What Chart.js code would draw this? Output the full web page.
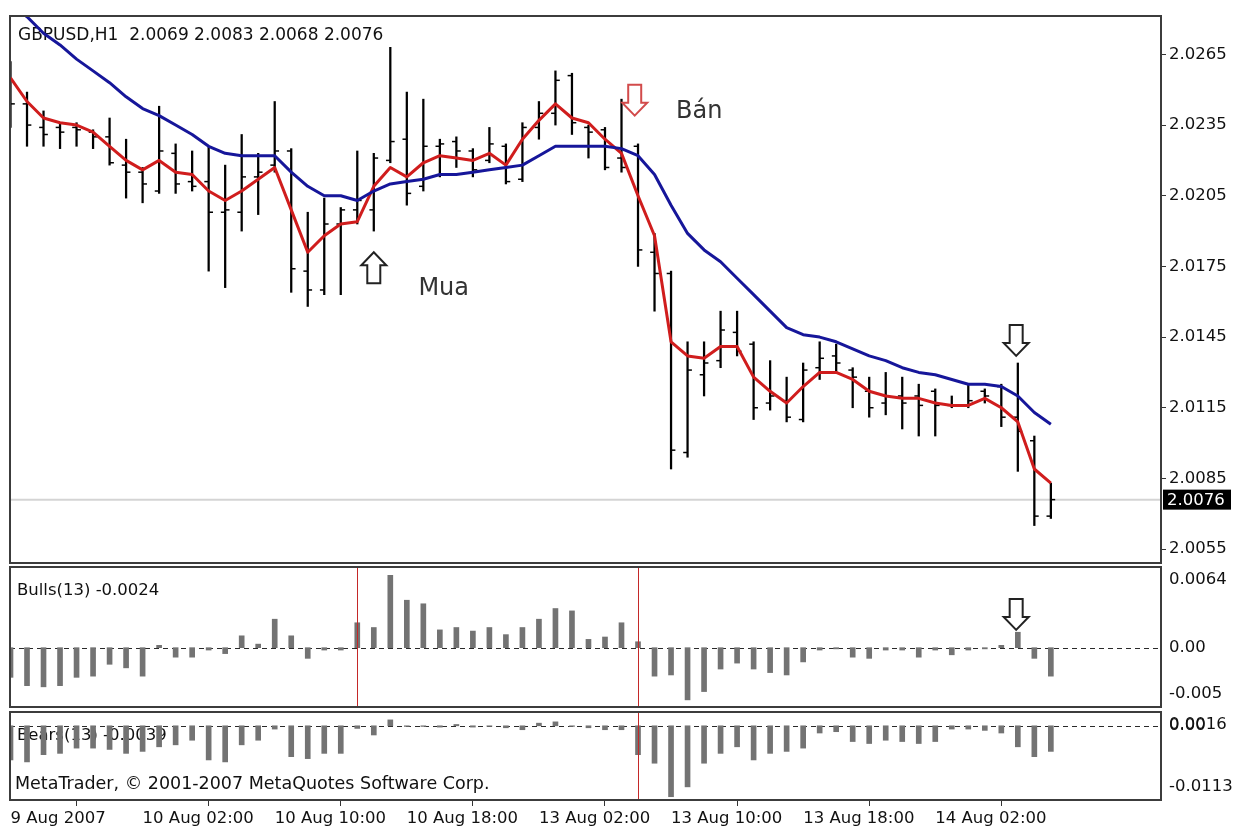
<!DOCTYPE html>
<html><head><meta charset="utf-8">
<script src="https://cdn.jsdelivr.net/npm/chart.js@4.4.1/dist/chart.umd.min.js"></script>
<style>html,body{margin:0;padding:0;background:#fff}canvas{display:block}</style>
</head><body>
<canvas id="c" width="1233" height="830"></canvas>
<script>
// ---------------- data (GBPUSD H1) ----------------
const symbolName = 'GBPUSD,H1';
const openP = [2.0254,2.0244,2.0234,2.0234,2.0234,2.0232,2.0230,2.0218,2.0215,2.0207,
2.0223,2.0211,2.0211,2.0198,2.0198,2.0213,2.0218,2.0224,2.0173,2.0165,
2.0193,2.0199,2.0199,2.0220,2.0229,2.0209,2.0226,2.0228,2.0224,2.0220,
2.0226,2.0212,2.0234,2.0240,2.0256,2.0234,2.0233,2.0221,2.0226,2.0181,
2.0172,2.0096,2.0129,2.0135,2.0147,2.0142,2.0117,2.0118,2.0110,2.0132,
2.0137,2.0131,2.0122,2.0117,2.0120,2.0120,2.0122,2.0116,2.0116,2.0122,
2.0124,2.0111,2.0101,2.0069];
const highP = [2.0262,2.0249,2.0241,2.0236,2.0236,2.0233,2.0238,2.0229,2.0217,2.0243,
2.0227,2.0224,2.0226,2.0218,2.0231,2.0223,2.0245,2.0225,2.0198,2.0204,
2.0200,2.0224,2.0223,2.0268,2.0249,2.0246,2.0229,2.0230,2.0225,2.0234,
2.0227,2.0236,2.0245,2.0258,2.0257,2.0235,2.0234,2.0246,2.0227,2.0189,
2.0173,2.0143,2.0143,2.0156,2.0156,2.0143,2.0135,2.0128,2.0134,2.0143,
2.0142,2.0132,2.0128,2.0130,2.0128,2.0125,2.0123,2.0120,2.0125,2.0123,
2.0125,2.0134,2.0103,2.0083];
const lowP = [2.0234,2.0226,2.0226,2.0225,2.0226,2.0225,2.0218,2.0204,2.0202,2.0206,
2.0206,2.0207,2.0173,2.0166,2.0190,2.0197,2.0215,2.0164,2.0158,2.0163,
2.0163,2.0193,2.0190,2.0219,2.0201,2.0207,2.0213,2.0217,2.0213,2.0219,
2.0210,2.0211,2.0229,2.0235,2.0231,2.0221,2.0216,2.0215,2.0175,2.0156,
2.0089,2.0094,2.0120,2.0132,2.0137,2.0110,2.0114,2.0109,2.0109,2.0127,
2.0130,2.0115,2.0111,2.0112,2.0106,2.0103,2.0103,2.0115,2.0115,2.0117,
2.0107,2.0088,2.0065,2.0068];
const closeP = [2.0244,2.0235,2.0231,2.0232,2.0233,2.0230,2.0219,2.0215,2.0210,2.0224,
2.0210,2.0209,2.0198,2.0199,2.0213,2.0215,2.0224,2.0174,2.0165,2.0193,
2.0199,2.0203,2.0221,2.0228,2.0206,2.0226,2.0227,2.0224,2.0216,2.0227,
2.0211,2.0234,2.0240,2.0254,2.0236,2.0232,2.0217,2.0217,2.0182,2.0172,
2.0097,2.0131,2.0134,2.0148,2.0139,2.0115,2.0120,2.0111,2.0131,2.0136,
2.0134,2.0128,2.0115,2.0120,2.0117,2.0116,2.0116,2.0116,2.0118,2.0120,
2.0111,2.0105,2.0069,2.0076];
const maFast = [2.0255,2.0245,2.0238,2.0236,2.0235,2.0232,2.0226,2.0220,2.0216,2.0220,
2.0215,2.0214,2.0207,2.0203,2.0207,2.0212,2.0217,2.0199,2.0181,2.0188,
2.0193,2.0194,2.0209,2.0217,2.0213,2.0219,2.0222,2.0221,2.0220,2.0223,
2.0218,2.0229,2.0237,2.0244,2.0238,2.0236,2.0229,2.0223,2.0205,2.0188,
2.0143,2.0137,2.0136,2.0141,2.0141,2.0128,2.0122,2.0117,2.0124,2.0130,
2.0130,2.0127,2.0122,2.0120,2.0119,2.0119,2.0117,2.0116,2.0116,2.0119,
2.0115,2.0109,2.0089,2.0083];
const maSlow = [2.0286,2.0281,2.0274,2.0269,2.0263,2.0258,2.0253,2.0247,2.0242,2.0239,
2.0235,2.0231,2.0226,2.0223,2.0222,2.0222,2.0222,2.0215,2.0209,2.0205,
2.0205,2.0203,2.0207,2.0210,2.0211,2.0212,2.0214,2.0214,2.0215,2.0216,
2.0217,2.0218,2.0222,2.0226,2.0226,2.0226,2.0226,2.0225,2.0222,2.0214,
2.0201,2.0189,2.0182,2.0177,2.0170,2.0163,2.0156,2.0149,2.0146,2.0145,
2.0143,2.0140,2.0137,2.0135,2.0132,2.0130,2.0129,2.0127,2.0125,2.0125,
2.0124,2.0120,2.0113,2.0108];
const bullsPower = [-0.0025,-0.0032,-0.0033,-0.0032,-0.0025,-0.0024,-0.0014,-0.0017,-0.0024,0.0002,
-0.0008,-0.0008,-0.0002,-0.0005,0.0010,0.0003,0.0024,0.0010,-0.0009,-0.0002,
-0.0002,0.0021,0.0017,0.0061,0.0040,0.0037,0.0015,0.0017,0.0014,0.0017,
0.0011,0.0017,0.0024,0.0033,0.0031,0.0007,0.0009,0.0021,0.0005,-0.0024,
-0.0023,-0.0044,-0.0037,-0.0018,-0.0013,-0.0018,-0.0021,-0.0023,-0.0012,-0.0002,
-0.0001,-0.0008,-0.0009,-0.0002,-0.0002,-0.0008,-0.0002,-0.0006,-0.0002,-0.0001,
0.0002,0.0013,-0.0009,-0.0024];
const bearsPower = [-0.0052,-0.0055,-0.0044,-0.0042,-0.0034,-0.0034,-0.0036,-0.0042,-0.0039,-0.0032,
-0.0029,-0.0022,-0.0052,-0.0055,-0.0029,-0.0022,-0.0005,-0.0047,-0.0050,-0.0042,
-0.0042,-0.0004,-0.0014,0.0009,-0.0001,-0.0001,-0.0002,0.0002,-0.0002,-0.0001,
-0.0003,-0.0006,0.0004,0.0006,-0.0001,-0.0003,-0.0006,-0.0006,-0.0044,-0.0057,
-0.0108,-0.0093,-0.0057,-0.0042,-0.0032,-0.0052,-0.0042,-0.0039,-0.0034,-0.0011,
-0.0009,-0.0024,-0.0027,-0.0022,-0.0024,-0.0027,-0.0024,-0.0005,-0.0005,-0.0007,
-0.0011,-0.0032,-0.0047,-0.0039];
const xTickIndex = [0,8,16,24,32,40,48,56];
const xTickLabels = ['9 Aug 2007','10 Aug 02:00','10 Aug 10:00','10 Aug 18:00','13 Aug 02:00','13 Aug 10:00','13 Aug 18:00','14 Aug 02:00'];
const priceTicks = [2.0055,2.0085,2.0115,2.0145,2.0175,2.0205,2.0235,2.0265];
const bullsTickLabels = ['-0.005','0.00','0.0064'];
const bearsTickLabels = ['-0.0113','0.00','0.0016'];
const signalIndex = [21,38];
const signalPanes = [['yBulls'],['yBulls','yBears']];
const arrowIndex = [22,37.8,60.9,60.9];
const arrowValue = [2.0181,2.0239,2.0137,0.0015];
const arrowPane = ['yMain','yMain','yMain','yBulls'];
const arrowDir = ['up','down','down','down'];
const noteText = ['Mua','Bán'];
const noteIndex = [24.7,40.3];
const noteValue = [2.0163,2.0238];
const copyrightText = 'MetaTrader, \u00A9 2001-2007 MetaQuotes Software Corp.';

// ---------------- chart ----------------
const FONT = "'DejaVu Sans', sans-serif";
Chart.defaults.font.family = FONT;
Chart.defaults.font.size = 16.5;
Chart.defaults.color = '#111';
const N = closeP.length;
const TICK_OFF = 0.13;
const pts = (arr, dx) => arr.map((v, i) => ({x: i + (dx || 0), y: v}));

function edgeTicks(labels) {
  return (v, i) => i === 0 ? [labels[0], ''] : (i === 2 ? ['', labels[2]] : labels[1]);
}
function fixV(sc) { sc.width = 72; sc.paddingTop = 0; sc.paddingBottom = 0; sc.paddingLeft = 0; sc.paddingRight = 0; }
function fixH(sc) { sc.height = 30; sc.paddingTop = 0; sc.paddingBottom = 0; sc.paddingLeft = 0; sc.paddingRight = 0; }

function drawArrow(ctx, cx, tipY, dir, color) {
  const hw = 12.5, sw = 6.5, hh = 13, sh = 18;
  const d = dir === 'up' ? 1 : -1;
  ctx.beginPath();
  ctx.moveTo(cx, tipY);
  ctx.lineTo(cx + hw, tipY + d * hh);
  ctx.lineTo(cx + sw, tipY + d * hh);
  ctx.lineTo(cx + sw, tipY + d * (hh + sh));
  ctx.lineTo(cx - sw, tipY + d * (hh + sh));
  ctx.lineTo(cx - sw, tipY + d * hh);
  ctx.lineTo(cx - hw, tipY + d * hh);
  ctx.closePath();
  ctx.fillStyle = '#fff'; ctx.fill();
  ctx.lineWidth = 2; ctx.strokeStyle = color; ctx.lineJoin = 'miter'; ctx.stroke();
}

const decor = {
  id: 'mtDecor',
  beforeDraw(chart) {
    const c = chart.ctx; c.save(); c.fillStyle = '#fff'; c.fillRect(0, 0, chart.width, chart.height); c.restore();
  },
  beforeDatasetsDraw(chart) {
    const {ctx, chartArea: a, scales: s} = chart;
    ctx.save();
    const yl = s.yMain.getPixelForValue(closeP[N - 1]);
    ctx.strokeStyle = '#d4d4d4'; ctx.lineWidth = 2;
    ctx.beginPath(); ctx.moveTo(a.left, yl); ctx.lineTo(a.right, yl); ctx.stroke();
    ctx.setLineDash([5, 4]); ctx.strokeStyle = '#2a2a2a'; ctx.lineWidth = 1;
    ['yBulls', 'yBears'].forEach(id => {
      const y0 = Math.round(s[id].getPixelForValue(0)) + 0.5;
      ctx.beginPath(); ctx.moveTo(a.left, y0); ctx.lineTo(a.right, y0); ctx.stroke();
    });
    ctx.setLineDash([]);
    ctx.fillStyle = '#111'; ctx.textAlign = 'left'; ctx.textBaseline = 'alphabetic';
    const title = symbolName + '  ' + [openP, highP, lowP, closeP].map(r => r[N - 1].toFixed(4)).join(' ');
    ctx.font = '17px ' + FONT; ctx.fillText(title, a.left + 8, s.yMain.top + 24);
    ctx.font = '16.5px ' + FONT;
    ctx.fillText('Bulls(13) ' + bullsPower[N - 1].toFixed(4), a.left + 7, s.yBulls.top + 28);
    ctx.fillText('Bears(13) ' + bearsPower[N - 1].toFixed(4), a.left + 7, s.yBears.top + 28);
    ctx.font = '17.5px ' + FONT; ctx.fillText(copyrightText, a.left + 5, s.yBears.bottom - 11);
    ctx.restore();
  },
  afterDatasetsDraw(chart) {
    const {ctx, chartArea: a, scales: s} = chart;
    ctx.save();
    ctx.strokeStyle = '#c42828'; ctx.lineWidth = 1;
    signalIndex.forEach((si, k) => {
      const x = Math.round(s.x.getPixelForValue(si)) + 0.5;
      signalPanes[k].forEach(id => {
        ctx.beginPath(); ctx.moveTo(x, s[id].top); ctx.lineTo(x, s[id].bottom); ctx.stroke();
      });
    });
    arrowIndex.forEach((ai, k) => {
      const cx = s.x.getPixelForValue(ai);
      const ty = s[arrowPane[k]].getPixelForValue(arrowValue[k]);
      drawArrow(ctx, cx, ty, arrowDir[k], k === 1 ? '#d24b4b' : '#222');
    });
    ctx.fillStyle = '#333'; ctx.font = '24px ' + FONT; ctx.textAlign = 'left'; ctx.textBaseline = 'alphabetic';
    noteText.forEach((t, k) => ctx.fillText(t, s.x.getPixelForValue(noteIndex[k]), s.yMain.getPixelForValue(noteValue[k])));
    ctx.strokeStyle = '#3c3c3c'; ctx.lineWidth = 2;
    ['yMain', 'yBulls', 'yBears'].forEach(id => {
      ctx.strokeRect(a.left, s[id].top, a.right - a.left, s[id].bottom - s[id].top);
    });
    const yl = s.yMain.getPixelForValue(closeP[N - 1]);
    ctx.fillStyle = '#000'; ctx.fillRect(a.right + 2, yl - 10, 68, 20);
    ctx.fillStyle = '#fff'; ctx.font = '16.5px ' + FONT; ctx.textBaseline = 'middle';
    ctx.fillText(closeP[N - 1].toFixed(4), a.right + 6, yl + 1);
    ctx.restore();
  }
};

const hiddenAxis = (w) => ({
  type: 'linear', position: 'right', stack: 'panes', stackWeight: w, display: true,
  ticks: {display: false}, grid: {display: false, drawTicks: false}, border: {display: false},
  afterFit: fixV
});

new Chart(document.getElementById('c'), {
  type: 'bar',
  data: {
    datasets: [
      {type: 'line', label: 'MA slow', data: pts(maSlow), yAxisID: 'yMain', borderColor: '#16169a', borderWidth: 3, pointRadius: 0, tension: 0, borderJoinStyle: 'round', order: 0},
      {type: 'line', label: 'MA fast', data: pts(maFast), yAxisID: 'yMain', borderColor: '#d01d1d', borderWidth: 3, pointRadius: 0, tension: 0, borderJoinStyle: 'round', order: 1},
      {type: 'line', label: 'Open', data: pts(openP, -TICK_OFF), yAxisID: 'yMain', showLine: false, pointStyle: 'line', pointRadius: 2.2, pointBorderWidth: 1.5, borderColor: '#000', order: 2},
      {type: 'line', label: 'Close', data: pts(closeP, TICK_OFF), yAxisID: 'yMain', showLine: false, pointStyle: 'line', pointRadius: 2.2, pointBorderWidth: 1.5, borderColor: '#000', order: 2},
      {type: 'bar', label: 'Range', data: highP.map((h, i) => ({x: i, y: [lowP[i], h]})), yAxisID: 'yMain', backgroundColor: '#000', barThickness: 1.6, grouped: false, order: 3},
      {type: 'bar', label: 'Bulls', data: pts(bullsPower), yAxisID: 'yBulls', backgroundColor: '#737373', barThickness: 5, grouped: false, order: 4},
      {type: 'bar', label: 'Bears', data: pts(bearsPower), yAxisID: 'yBears', backgroundColor: '#737373', barThickness: 5, grouped: false, order: 4}
    ]
  },
  options: {
    responsive: false, animation: false, devicePixelRatio: 1, events: [],
    layout: {padding: {left: 10, top: 16, right: 0, bottom: 0}},
    plugins: {legend: {display: false}, tooltip: {enabled: false}},
    scales: {
      x: {
        type: 'linear', position: 'bottom', min: -0.03, max: 69.67, offset: false,
        afterBuildTicks: sc => { sc.ticks = xTickIndex.map(v => ({value: v})); },
        afterFit: fixH,
        ticks: {autoSkip: false, maxRotation: 0, minRotation: 0, align: 'start', padding: 3, callback: (v, i) => xTickLabels[i]},
        grid: {display: true, drawOnChartArea: false, drawTicks: true, tickLength: 6, color: '#333'},
        border: {display: false}
      },
      yMain: {
        type: 'linear', position: 'right', stack: 'panes', stackWeight: 547, min: 2.00491, max: 2.02813,
        afterBuildTicks: sc => { sc.ticks = priceTicks.map(v => ({value: v})); },
        afterFit: fixV,
        ticks: {autoSkip: false, padding: 3, callback: v => v.toFixed(4)},
        grid: {display: true, drawOnChartArea: false, drawTicks: true, tickLength: 5, color: '#333'},
        border: {display: false}
      },
      yGap1: hiddenAxis(4),
      yBulls: {
        type: 'linear', position: 'right', stack: 'panes', stackWeight: 140, min: -0.005, max: 0.0068,
        afterBuildTicks: sc => { sc.ticks = [sc.min, 0, sc.max].map(v => ({value: v})); },
        afterFit: fixV,
        ticks: {autoSkip: false, padding: 8, font: {lineHeight: '26px'}, callback: edgeTicks(bullsTickLabels)},
        grid: {display: false, drawTicks: false},
        border: {display: false}
      },
      yGap2: hiddenAxis(5),
      yBears: {
        type: 'linear', position: 'right', stack: 'panes', stackWeight: 88, min: -0.0113, max: 0.0021,
        afterBuildTicks: sc => { sc.ticks = [sc.min, 0, sc.max].map(v => ({value: v})); },
        afterFit: fixV,
        ticks: {autoSkip: false, padding: 8, font: {lineHeight: '26px'}, callback: edgeTicks(bearsTickLabels)},
        grid: {display: false, drawTicks: false},
        border: {display: false}
      }
    }
  },
  plugins: [decor]
});
</script>
</body></html>
